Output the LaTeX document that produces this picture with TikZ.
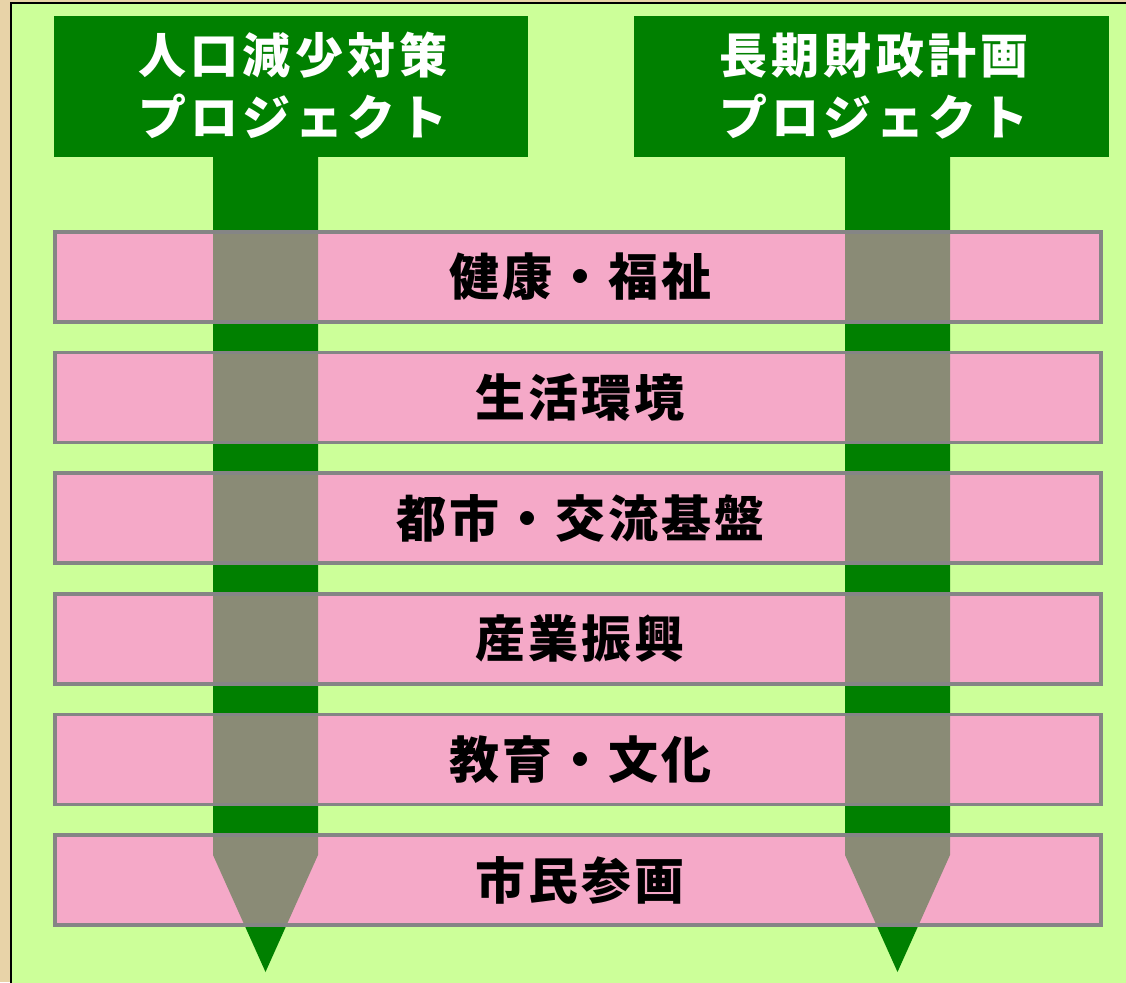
\documentclass[tikz,border=0pt]{standalone}
\usepackage{fontspec}
\newfontfamily\jphead{Noto Sans CJK JP}[LetterSpace=9]
\newfontfamily\jpband{Noto Sans CJK JP}[LetterSpace=6]
\definecolor{parch}{HTML}{E8D3A8}
\definecolor{panel}{HTML}{CCFF99}
\definecolor{dgreen}{HTML}{008000}
\definecolor{pinkfill}{HTML}{F5A9C8}
\definecolor{overlap}{HTML}{8A8B76}
\definecolor{bordergray}{HTML}{858585}
\tikzset{
  header/.style={fill=dgreen, draw=none},
  headtext/.style={text=white, align=center, font={\jphead\bfseries\fontsize{48}{62}\selectfont}},
  bandbox/.style={draw=bordergray, line width=3.5pt, fill=pinkfill},
  bandtext/.style={text=black, font={\jpband\bfseries\fontsize{50}{60}\selectfont}},
  barfill/.style={fill=dgreen, draw=none}
}
\begin{document}
\begin{tikzpicture}[x=1pt,y=-1pt]
\useasboundingbox (0,0) rectangle (1126,982);
% parchment background and panel
\fill[parch] (0,0) rectangle (1126,982);
\fill[panel] (11,3) rectangle (1130,990);
\draw[black, line width=2pt] (11,990) -- (11,3) -- (1130,3);
% header boxes
\fill[header] (54,16) rectangle (528,157);
\fill[header] (634,16) rectangle (1109,157);
\node[headtext] (h1) at (293,86) {人口減少対策\\プロジェクト};
\node[headtext] (h2) at (874,86) {長期財政計画\\プロジェクト};
% bars with arrow tips
\newcommand{\barshape}[1]{(#1-52.5,157) -- (#1+52.5,157) -- (#1+52.5,855) -- (#1,972) -- (#1-52.5,855) -- cycle}
\fill[barfill] \barshape{265.5};
\fill[barfill] \barshape{897.5};
% bands
\foreach \i/\t in {0/健康・福祉,1/生活環境,2/都市・交流基盤,3/産業振興,4/教育・文化,5/市民参画}{
  \pgfmathsetmacro{\ytop}{232+120.6*\i}
  \pgfmathsetmacro{\ybot}{\ytop+90}
  \pgfmathsetmacro{\ymid}{\ytop+45}
  \fill[pinkfill] (55,\ytop) rectangle (1101,\ybot);
  \begin{scope}
    \clip (55,\ytop) rectangle (1101,\ybot);
    \fill[overlap] \barshape{265.5};
    \fill[overlap] \barshape{897.5};
  \end{scope}
  \draw[draw=bordergray, line width=3.5pt] (55,\ytop) rectangle (1101,\ybot);
  \node[bandtext] (b\i) at (580,\ymid) {\t};
}
\end{tikzpicture}
\end{document}
